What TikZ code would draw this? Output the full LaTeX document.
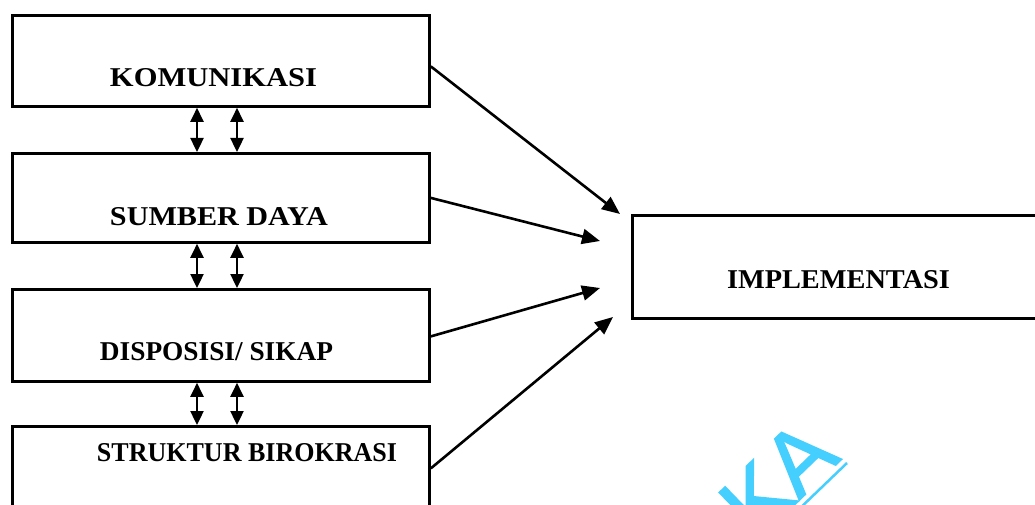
\documentclass[tikz,border=0pt]{standalone}
\usepackage{fontspec}
\setmainfont{Liberation Serif}
\newfontfamily\wmfont[FakeBold=1.6]{Liberation Sans}
\usetikzlibrary{arrows.meta}
\definecolor{wmcyan}{HTML}{45CFFF}
\tikzset{
  boxnode/.style={draw=black, line width=2.8pt, rectangle, inner sep=0pt, anchor=north west},
  lbl/.style={inner sep=0pt, anchor=base},
  dbl/.style={line width=2.4pt, {Triangle[length=14pt,width=13pt]}-{Triangle[length=14pt,width=13pt]}},
  conn/.style={line width=2.6pt, -{Triangle[length=18pt,width=15pt]}},
}
\newcommand{\captext}[2]{\resizebox{#1pt}{18pt}{\bfseries #2}}
\begin{document}
\begin{tikzpicture}[x=1pt,y=-1pt]
\useasboundingbox (0,0) rectangle (1035,505);
\clip (0,0) rectangle (1035,505);
\fill[white] (0,0) rectangle (1035,505);
% boxes
\node[boxnode, minimum width=417pt, minimum height=91pt] (b1) at (11,14) {};
\node[boxnode, minimum width=417pt, minimum height=89pt] (b2) at (11,152) {};
\node[boxnode, minimum width=417pt, minimum height=92pt] (b3) at (11,288) {};
\node[boxnode, minimum width=417pt, minimum height=84pt] (b4) at (11,425) {};
\node[boxnode, minimum width=420pt, minimum height=103pt] (imp) at (631,214) {};
% labels
\node[lbl] (l1) at (213.5,87) {\captext{207}{KOMUNIKASI}};
\node[lbl] (l2) at (219,225) {\captext{218}{SUMBER DAYA}};
\node[lbl] (l3) at (216.5,360) {\captext{233}{DISPOSISI/ SIKAP}};
\node[lbl] (l4) at (247,461) {\captext{300}{STRUKTUR BIROKRASI}};
\node[lbl] (l5) at (838.5,288) {\captext{223}{IMPLEMENTASI}};
% double arrows between boxes
\coordinate (xa) at (197,0);
\coordinate (xb) at (237,0);
\draw[dbl] (b1.south -| xa) -- (b2.north -| xa);
\draw[dbl] (b1.south -| xb) -- (b2.north -| xb);
\draw[dbl] (b2.south -| xa) -- (b3.north -| xa);
\draw[dbl] (b2.south -| xb) -- (b3.north -| xb);
\draw[dbl] (b3.south -| xa) -- (b4.north -| xa);
\draw[dbl] (b3.south -| xb) -- (b4.north -| xb);
% arrows to implementasi
\coordinate (t1) at (620,214);
\coordinate (t2) at (600,241);
\coordinate (t3) at (600,288);
\coordinate (t4) at (613,317);
\draw[conn] ([yshift=-5.5pt]b1.east) -- (t1);
\draw[conn] (b2.east) -- (t2);
\draw[conn] ([yshift=-1pt]b3.east) -- (t3);
\draw[conn] (b4.east) -- (t4);
% watermark
\node[inner sep=0pt, anchor=base east, rotate=44, text=wmcyan, font=\wmfont\fontsize{89}{89}\selectfont] (wm) at (842,459) {KA};
\coordinate (u1) at (847,463);
\coordinate (u2) at (770,537);
\draw[wmcyan, line width=2.5pt] (u1) -- (u2);
\end{tikzpicture}
\end{document}
